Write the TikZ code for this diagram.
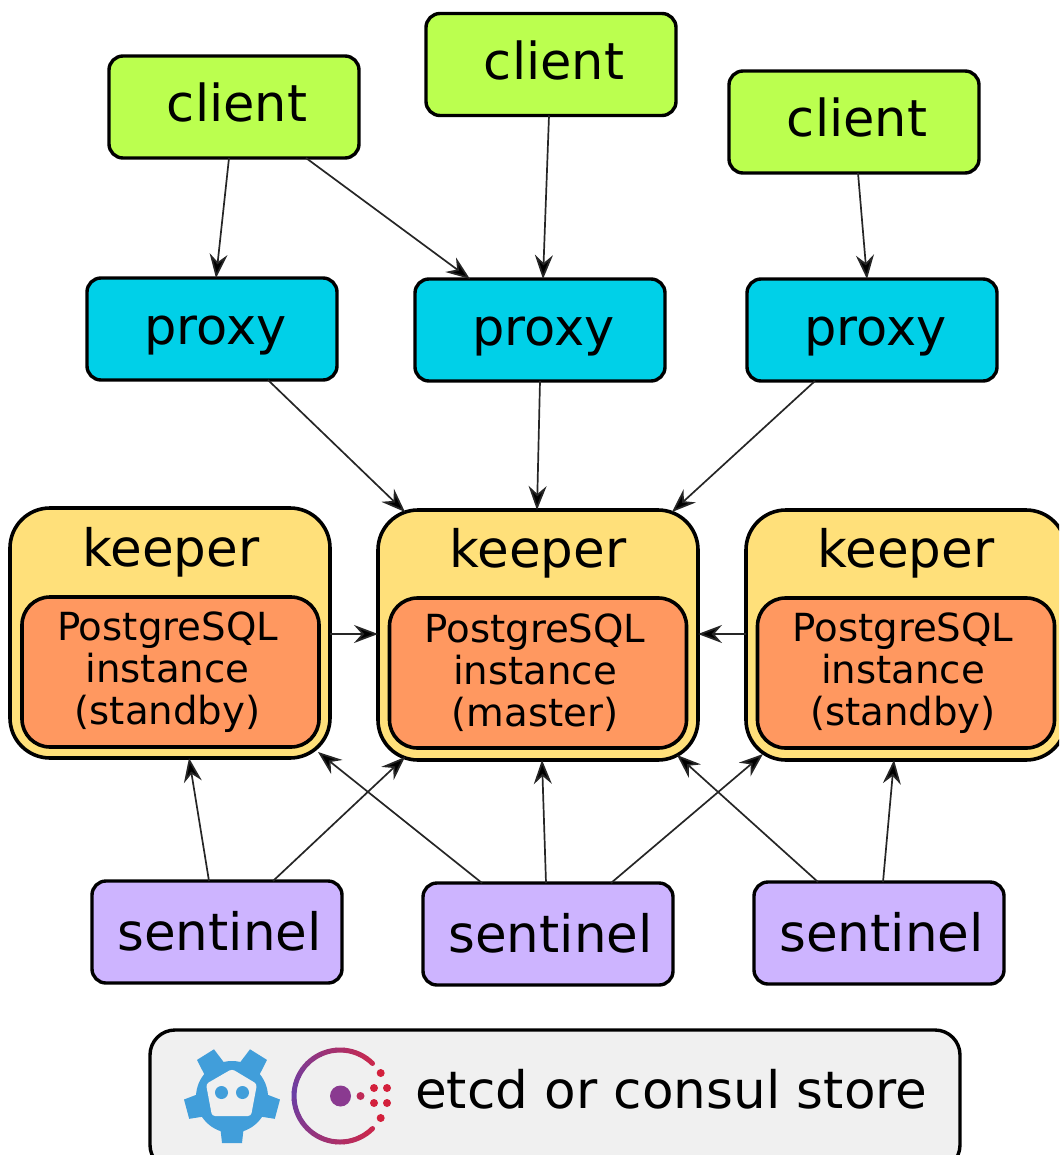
\documentclass[tikz,border=0pt]{standalone}
\usepackage{fontspec}
\setmainfont{DejaVu Sans}
\usetikzlibrary{arrows.meta}
\definecolor{clientc}{HTML}{BBFF4F}
\definecolor{proxyc}{HTML}{00D0E8}
\definecolor{keeperc}{HTML}{FFE07A}
\definecolor{innerc}{HTML}{FF9860}
\definecolor{sentc}{HTML}{CDB4FF}
\definecolor{storec}{HTML}{F0F0F0}
\definecolor{etcdc}{HTML}{419EDA}
\definecolor{conspurple}{HTML}{6A3FA5}
\definecolor{consred}{HTML}{C8284E}
\definecolor{consdot}{HTML}{D3203C}
\definecolor{conscore}{HTML}{8A3A90}
\newcommand{\lineshift}[1]{\hspace*{-6pt}#1}
\tikzset{
  box/.style={draw=black,line width=3.4pt,outer sep=0pt,inner sep=0pt,rounded corners=14pt,minimum width=250pt,minimum height=102pt,font=\fontsize{51}{51}\selectfont},
  clientbox/.style={box,fill=clientc,text height=39pt,text depth=9pt,execute at begin node={\hspace{6pt}}},
  proxybox/.style={box,fill=proxyc,text height=39pt,text depth=9pt,execute at begin node={\hspace{7pt}}},
  sentbox/.style={box,fill=sentc,text height=39pt,text depth=3pt,font=\fontsize{51.5}{51.5}\selectfont,execute at begin node={\hspace{5pt}}},
  keeperbox/.style={draw=black,line width=3.6pt,outer sep=0pt,rounded corners=40pt,fill=keeperc,minimum width=320pt,minimum height=250pt},
  innerbox/.style={draw=black,line width=3.6pt,outer sep=0pt,inner sep=0pt,rounded corners=28pt,fill=innerc,minimum width=297pt,minimum height=150pt,align=center,font=\fontsize{38.7}{42}\selectfont},
  keeperlabel/.style={anchor=base,inner sep=0pt,font=\fontsize{51.5}{51.5}\selectfont},
  storebox/.style={draw=black,line width=3.4pt,outer sep=0pt,rounded corners=25pt,fill=storec,minimum width=810pt,minimum height=140pt},
  storelabel/.style={anchor=base west,inner sep=0pt,font=\fontsize{51.6}{51.6}\selectfont},
  conn/.style={draw=black!85,line width=1.7pt,-{Stealth[length=24pt,width=18pt,inset=8pt,fill=black]}},
}
\begin{document}
\begin{tikzpicture}[x=1pt,y=-1pt]
\useasboundingbox (0,0) rectangle (1059,1155);
\clip (0,0) rectangle (1059,1155);
\node[clientbox] (c1) at (234,107) {client};
\node[clientbox] (c2) at (551,64.5) {client};
\node[clientbox] (c3) at (854,122) {client};
\node[proxybox] (p1) at (212,329) {proxy};
\node[proxybox] (p2) at (540,330) {proxy};
\node[proxybox] (p3) at (872,330) {proxy};
\node[keeperbox] (k1) at (170,633) {};
\node[keeperbox] (k2) at (538,635) {};
\node[keeperbox] (k3) at (906,635) {};
\node[keeperlabel] (l1) at (171,566) {keeper};
\node[keeperlabel] (l2) at (538,567) {keeper};
\node[keeperlabel] (l3) at (906,567) {keeper};
\node[innerbox] (i1) at (170.5,672) {\lineshift{PostgreSQL}\\\lineshift{instance}\\\lineshift{(standby)}};
\node[innerbox] (i2) at (538,673) {\lineshift{PostgreSQL}\\\lineshift{instance}\\\lineshift{(master)}};
\node[innerbox] (i3) at (906,673) {\lineshift{PostgreSQL}\\\lineshift{instance}\\\lineshift{(standby)}};
\node[sentbox] (s1) at (217,932) {sentinel};
\node[sentbox] (s2) at (548,934) {sentinel};
\node[sentbox] (s3) at (879,933) {sentinel};
\node[storebox] (st) at (555,1100) {};
\node[storelabel] (stl) at (415,1108) {etcd or consul store};
% connectors
\draw[conn] ([xshift=-5pt]c1.south) -- ([xshift=4pt]p1.north);
\draw[conn] ([xshift=72pt]c1.south) -- ([xshift=-70pt]p2.north);
\draw[conn] ([xshift=-2pt]c2.south) -- ([xshift=3pt]p2.north);
\draw[conn] ([xshift=4pt]c3.south) -- ([xshift=-5pt]p3.north);
\draw[conn] ([xshift=56pt]p1.south) -- ([shift={(-133pt,-2pt)}]k2.north);
\draw[conn] (p2.south) -- ([xshift=-1pt]k2.north);
\draw[conn] ([xshift=-57pt]p3.south) -- ([shift={(134pt,-2pt)}]k2.north);
\draw[conn] ([yshift=-1pt]k1.east) -- ([yshift=1pt]k2.west);
\draw[conn] ([yshift=1pt]k3.west) -- ([yshift=1pt]k2.east);
\draw[conn] ([xshift=-8pt]s1.north) -- ([xshift=19pt]k1.south);
\draw[conn] ([xshift=56pt]s1.north) -- ([shift={(-133pt,3pt)}]k2.south);
\draw[conn] ([xshift=-66pt]s2.north) -- ([shift={(-12pt,6pt)}]k1.south east);
\draw[conn] ([xshift=-2pt]s2.north) -- ([xshift=4pt]k2.south);
\draw[conn] ([xshift=63pt]s2.north) -- ([shift={(17pt,6pt)}]k3.south west);
\draw[conn] ([xshift=-61pt]s3.north) -- ([shift={(-21pt,5pt)}]k2.south east);
\draw[conn] ([xshift=4pt]s3.north) -- ([xshift=-12pt]k3.south);
% etcd logo
\fill[etcdc] (232,1097) circle (36);
\foreach \a/\r in {270/46,345/47,58/50,122/50,195/47}{
  \begin{scope}[shift={(232,1097)},rotate=\a]
    \fill[etcdc] (28,-12) -- (\r,-10) -- (\r,10) -- (28,12) -- cycle;
  \end{scope}
}
\fill[storec,rounded corners=3pt] (232,1069) -- (257,1084) -- (251,1116) -- (212,1116) -- (206,1084) -- cycle;
\fill[etcdc] (221.5,1092.5) circle (6.5);
\fill[etcdc] (242.5,1092.5) circle (6.5);
% consul logo
\foreach \a in {45,55,...,305}{
  \pgfmathsetmacro{\p}{min(100,abs(\a-175)/130*100)}
  \draw[line width=5pt,line cap=round,color=consred!\p!conspurple] (340,1096) ++(-\a:46) arc[start angle=-\a,end angle=-\a-10,radius=46];
}
\fill[conscore] (340.5,1096) circle (10.5);
\fill[consred!85!conscore] (360.5,1096) circle (4);
\foreach \x/\y in {380.7/1073,374/1088,387/1088,374/1103,387/1103,380.7/1118}{
  \fill[consdot] (\x,\y) circle (4);
}
\end{tikzpicture}
\end{document}
